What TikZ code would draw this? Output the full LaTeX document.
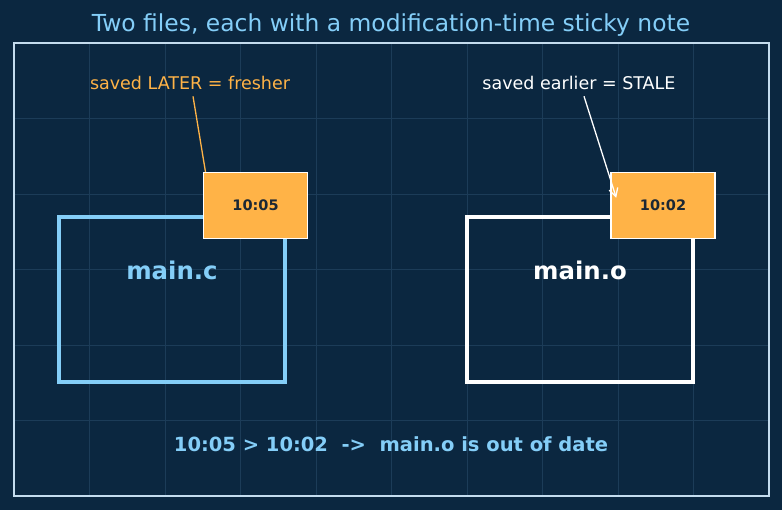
\documentclass[tikz,border=0pt]{standalone}
\usepackage{fontspec}
\setmainfont{DejaVu Sans}
\usetikzlibrary{positioning, arrows.meta}

\definecolor{fond}{HTML}{0B2740}
\definecolor{grille}{HTML}{1C3C58}
\definecolor{cadre}{HTML}{C4DCEE}
\definecolor{ciel}{HTML}{84CEF8}
\definecolor{orangenote}{HTML}{FFB347}
\definecolor{encre}{HTML}{1B2734}

\begin{document}
\begin{tikzpicture}[x=1pt, y=1pt,
    fichier/.style={draw, line width=3.2pt, minimum width=226pt, minimum height=165pt, inner sep=0pt},
    nomfichier/.style={font=\bfseries\fontsize{24.4}{28}\selectfont},
    pastille/.style={draw=white, line width=1.5pt, fill=orangenote, minimum width=104pt, minimum height=66pt,
        inner sep=0pt, text=encre, font=\bfseries\fontsize{14.5}{17}\selectfont},
    remarque/.style={font=\fontsize{17.5}{21}\selectfont}]

    % Fond et grille légère
    \fill[fond] (0,0) rectangle (782,510);
    \useasboundingbox (0,0) rectangle (782,510);
    \draw[grille, line width=0.8pt, step=75.5pt, shift={(14,14)}] (0,0) grid (755,453);
    \draw[cadre, line width=2pt] (14,14) rectangle (769,467);

    % Titre
    \node[ciel, font=\fontsize{23.4}{27}\selectfont] (titre) at (391,485) {Two files, each with a modification-time sticky note};

    % Premier fichier : main.c (plus récent)
    \begin{scope}[shift={(172,210.5)}]
        \node[fichier, draw=ciel] (mainc) at (0,0) {};
        \node[nomfichier, text=ciel] (nommainc) at (0,29.5) {main.c};
        \node[remarque, text=orangenote] (frais) at (18,216.5) {saved LATER = fresher};
        % Trait vers la pastille
        \draw[orangenote, line width=1.3pt] ([xshift=3pt,yshift=-3pt]frais.south) -- ([xshift=33.5pt,yshift=127.5pt]mainc.center);
        \node[pastille] (heurec) at (83.5,94) {10:05};
    \end{scope}

    % Second fichier : main.o (périmé)
    \begin{scope}[shift={(580,210.5)}]
        \node[fichier, draw=white] (maino) at (0,0) {};
        \node[nomfichier, text=white] (nommaino) at (0,29.5) {main.o};
        \node[pastille] (heureo) at (83,94) {10:02};
        \node[remarque, text=white] (perime) at (-1,216.5) {saved earlier = STALE};
        % Flèche vers la pastille
        \draw[white, line width=1.3pt, -{Straight Barb[length=8pt, width=9pt]}] ([xshift=5pt,yshift=-3pt]perime.south) -- ([xshift=6pt,yshift=-26pt]heureo.north west);
    \end{scope}

    % Conclusion
    \node[ciel, font=\bfseries\fontsize{19.5}{23}\selectfont] (bilan) at (391,66) {10:05 > 10:02\ \ ->\ \ main.o is out of date};

\end{tikzpicture}
\end{document}
